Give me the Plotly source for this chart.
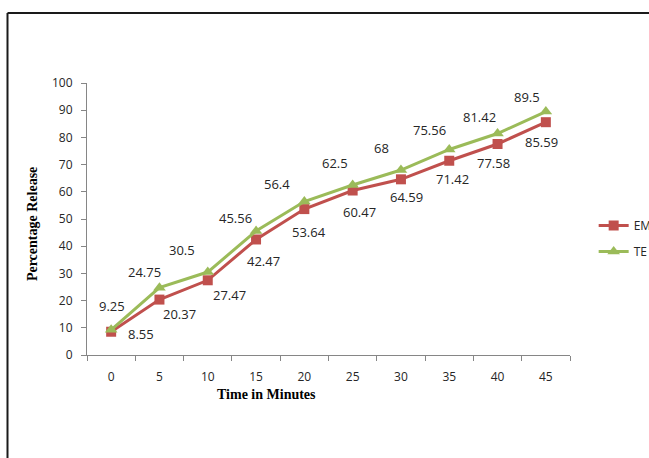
import plotly.graph_objects as go

# Release profile over time
time_min = ["0", "5", "10", "15", "20", "25", "30", "35", "40", "45"]
em_release = [8.55, 20.37, 27.47, 42.47, 53.64, 60.47, 64.59, 71.42, 77.58, 85.59]
te_release = [9.25, 24.75, 30.5, 45.56, 56.4, 62.5, 68, 75.56, 81.42, 89.5]
y_ticks = [0, 10, 20, 30, 40, 50, 60, 70, 80, 90, 100]

# Pixel offsets of the value labels relative to their points
em_dx = [30, 20, 22, 7, 5, 7, 6, 3, -4, -4]
em_dy = [-2, -14, -15, -22, -23, -21, -18, -18, -19, -20]
te_dx = [1, -15, -26, -21, -27, -18, -19, -20, -18, -19]
te_dy = [24, 16, 22, 13, 18, 22, 22, 19, 17, 15]

EM_COLOR = "#C0504D"
TE_COLOR = "#9BBB59"
TXT = "#262626"
AXIS = "#868686"
LABEL_FONT = dict(family="Open Sans, sans-serif", size=13, color=TXT)

fig = go.Figure()
fig.add_trace(go.Scatter(
    x=time_min, y=em_release, name="EM", mode="lines+markers",
    legendgroup="em",
    line=dict(color=EM_COLOR, width=3),
    marker=dict(symbol="square", size=10, color=EM_COLOR),
))
fig.add_trace(go.Scatter(
    x=time_min, y=te_release, name="TE", mode="lines+markers",
    legendgroup="te",
    line=dict(color=TE_COLOR, width=3),
    marker=dict(symbol="triangle-up", size=11, color=TE_COLOR),
))

# Value labels, placed at each category index on the category axis
annotations = []
for i, (yv, dx, dy) in enumerate(zip(em_release, em_dx, em_dy)):
    annotations.append(dict(x=i, y=yv, xref="x", yref="y", text=f"{yv:g}",
                            showarrow=False, xshift=dx, yshift=dy, font=LABEL_FONT))
for i, (yv, dx, dy) in enumerate(zip(te_release, te_dx, te_dy)):
    annotations.append(dict(x=i, y=yv, xref="x", yref="y", text=f"{yv:g}",
                            showarrow=False, xshift=dx, yshift=dy, font=LABEL_FONT))

title_font = dict(family="Liberation Serif, Times New Roman, serif", size=14, color="#000000")
annotations.append(dict(x=-0.114, y=0.481, xref="paper", yref="paper",
                        xanchor="center", yanchor="middle",
                        text="<b>Percentage Release</b>", textangle=-90,
                        showarrow=False, font=title_font))
annotations.append(dict(x=0.372, y=-0.147, xref="paper", yref="paper",
                        xanchor="center", yanchor="middle",
                        text="<b>Time in Minutes</b>",
                        showarrow=False, font=title_font))

# Outer frame (top and left edges)
frame = dict(color="#1a1a1a", width=2)
shapes = [
    dict(type="line", xref="paper", yref="paper", x0=-0.1646, x1=1.25,
         y0=1.2578, y1=1.2578, line=frame),
    dict(type="line", xref="paper", yref="paper", x0=-0.1646, x1=-0.1646,
         y0=1.2578, y1=-0.45, line=frame),
]

fig.update_layout(
    width=649, height=458,
    margin=dict(l=87, r=79, t=83, b=103, autoexpand=False),
    paper_bgcolor="white", plot_bgcolor="white",
    showlegend=True,
    legend=dict(x=1.049, y=0.428, xanchor="left", yanchor="middle",
                bgcolor="rgba(0,0,0,0)", tracegroupgap=7,
                font=dict(family="Open Sans, sans-serif", size=12, color=TXT)),
    annotations=annotations,
    shapes=shapes,
    xaxis=dict(type="category", range=[-0.5, 9.5], autorange=False,
               tickson="boundaries", ticks="outside", ticklen=5, tickangle=0,
               tickcolor=AXIS, showline=True, linecolor=AXIS, linewidth=1,
               showgrid=False, zeroline=False, ticklabelstandoff=11,
               tickfont=dict(family="Open Sans, sans-serif", size=12, color=TXT)),
    yaxis=dict(range=[0, 100], autorange=False, tickvals=y_ticks, ticks="outside",
               ticklen=5, tickcolor=AXIS, showline=True, linecolor=AXIS, linewidth=1,
               showgrid=False, zeroline=False, ticklabelstandoff=6,
               tickfont=dict(family="Open Sans, sans-serif", size=12, color=TXT)),
)

fig.write_html("out.html")
